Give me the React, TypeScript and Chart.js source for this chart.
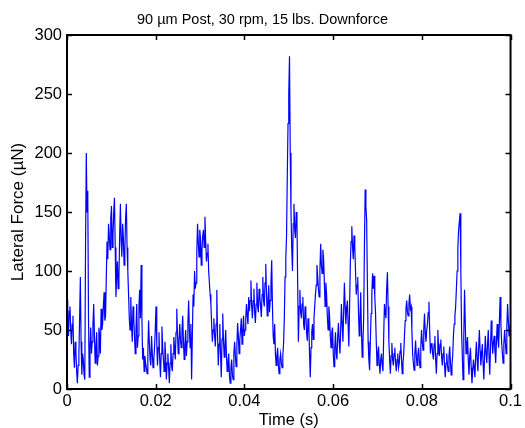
import React, { useEffect, useRef } from "react";
import { Chart, registerables } from "chart.js";

Chart.register(...registerables);

const TITLE = "90 \u00b5m Post, 30 rpm, 15 lbs. Downforce";
const X_LABEL = "Time (s)";
const Y_LABEL = "Lateral Force (\u00b5N)";
const X_MAX = 0.1;
const Y_MAX = 300;
const X_STEP = 0.02;
const Y_STEP = 50;

// Lateral force samples (µN), evenly spaced over 0 .. 0.1 s
const forceValues: number[] = [
  75, 52, 45, 66, 70, 50, 38, 55, 62, 30, 18, 40, 32, 15, 5, 20, 28, 60, 95, 40,
  12, 30, 25, 12, 8, 120, 200, 150, 168, 60, 10, 35, 52, 30, 40, 55, 72, 45, 22, 35,
  48, 20, 28, 52, 45, 30, 68, 50, 55, 70, 82, 58, 62, 95, 125, 110, 140, 130, 118, 145,
  155, 120, 130, 150, 162, 120, 78, 95, 108, 85, 95, 130, 157, 125, 112, 140, 128, 105, 118, 145,
  157, 120, 100, 80, 60, 50, 78, 55, 40, 70, 60, 45, 30, 50, 72, 35, 45, 70, 84, 60,
  105, 60, 25, 35, 15, 28, 22, 18, 13, 30, 58, 40, 25, 20, 45, 30, 18, 25, 35, 50,
  70, 40, 20, 35, 48, 25, 10, 30, 53, 35, 25, 15, 40, 28, 8, 22, 30, 18, 5, 22,
  38, 20, 15, 30, 44, 35, 25, 48, 68, 45, 30, 40, 55, 42, 35, 50, 62, 40, 25, 38,
  50, 28, 40, 55, 75, 50, 35, 55, 8, 45, 80, 70, 100, 85, 90, 115, 140, 125, 112, 135,
  128, 105, 118, 130, 135, 120, 146, 125, 108, 115, 123, 100, 90, 80, 72, 55, 40, 50, 60, 45,
  36, 55, 84, 45, 20, 38, 55, 30, 10, 42, 64, 40, 27, 38, 50, 28, 15, 22, 30, 12,
  5, 18, 25, 12, 8, 30, 40, 28, 19, 35, 56, 45, 30, 42, 50, 60, 38, 48, 62, 45,
  50, 60, 72, 62, 55, 78, 66, 75, 92, 70, 60, 75, 85, 65, 56, 72, 90, 70, 65, 85,
  78, 70, 61, 80, 95, 75, 70, 90, 106, 80, 62, 75, 88, 65, 75, 90, 109, 70, 45, 38,
  55, 30, 20, 28, 35, 20, 13, 25, 30, 22, 18, 28, 39, 60, 95, 110, 129, 180, 225, 250,
  282, 200, 150, 120, 100, 140, 157, 135, 128, 150, 145, 90, 40, 70, 84, 65, 60, 72, 78, 55,
  50, 70, 64, 48, 41, 60, 55, 30, 10, 35, 48, 55, 42, 60, 70, 80, 88, 105, 95, 85,
  78, 100, 123, 105, 98, 118, 110, 90, 70, 90, 80, 62, 50, 70, 62, 45, 35, 48, 52, 30,
  19, 35, 48, 30, 25, 45, 56, 40, 30, 50, 72, 55, 40, 65, 90, 70, 55, 68, 75, 55,
  36, 70, 106, 125, 138, 120, 110, 130, 120, 100, 80, 88, 95, 65, 45, 60, 82, 50, 27, 40,
  60, 120, 169, 155, 143, 90, 40, 25, 16, 40, 64, 80, 98, 85, 96, 78, 64, 40, 20, 30,
  36, 22, 13, 25, 30, 20, 15, 45, 72, 65, 60, 85, 99, 70, 40, 25, 13, 28, 39, 25,
  20, 30, 35, 22, 15, 25, 30, 18, 22, 32, 39, 25, 13, 22, 30, 45, 58, 68, 75, 65,
  62, 72, 80, 68, 70, 50, 30, 22, 16, 30, 41, 28, 20, 28, 35, 25, 18, 35, 50, 40,
  33, 50, 64, 48, 40, 50, 55, 65, 74, 50, 30, 38, 39, 30, 25, 38, 45, 25, 13, 30,
  50, 35, 28, 38, 42, 28, 20, 30, 36, 20, 10, 22, 30, 20, 15, 28, 36, 22, 12, 20,
  28, 45, 55, 62, 70, 85, 100, 120, 135, 142, 149, 100, 50, 28, 8, 45, 84, 55, 30, 38,
  44, 25, 12, 28, 35, 18, 5, 15, 25, 18, 10, 28, 40, 25, 15, 35, 50, 32, 20, 30,
  38, 22, 8, 28, 45, 30, 22, 38, 50, 28, 12, 35, 58, 42, 30, 40, 45, 32, 22, 40,
  55, 42, 35, 58, 78, 55, 40, 30, 22, 38, 50, 40, 30, 52, 72, 58, 45, 50, 56,
];

const timeValues: number[] = forceValues.map(
  (_, i) => (i * X_MAX) / (forceValues.length - 1)
);

const FONT = "'Liberation Sans', Arial, Helvetica, sans-serif";

const inwardTicks = {
  id: "inwardTicks",
  afterDraw(chart: any) {
    const { ctx, chartArea, scales } = chart;
    const { left, right, top, bottom } = chartArea;
    const len = 5;
    ctx.save();
    ctx.strokeStyle = "#000";
    ctx.lineWidth = 1.5;
    scales.x.ticks.forEach((t: any) => {
      const px = Math.round(scales.x.getPixelForValue(t.value)) + 0.5;
      ctx.beginPath();
      ctx.moveTo(px, bottom);
      ctx.lineTo(px, bottom - len);
      ctx.moveTo(px, top);
      ctx.lineTo(px, top + len);
      ctx.stroke();
    });
    scales.y.ticks.forEach((t: any) => {
      const py = Math.round(scales.y.getPixelForValue(t.value)) + 0.5;
      ctx.beginPath();
      ctx.moveTo(left, py);
      ctx.lineTo(left + len, py);
      ctx.moveTo(right, py);
      ctx.lineTo(right - len, py);
      ctx.stroke();
    });
    ctx.lineWidth = 2;
    ctx.strokeRect(left, top, right - left, bottom - top);
    ctx.restore();
  },
};

const whiteBg = {
  id: "whiteBg",
  beforeDraw(chart: any) {
    const { ctx, width, height } = chart;
    ctx.save();
    ctx.fillStyle = "#fff";
    ctx.fillRect(0, 0, width, height);
    ctx.restore();
  },
};

export default function App() {
  const ref = useRef<HTMLCanvasElement | null>(null);

  useEffect(() => {
    if (!ref.current) return;
    const chart = new Chart(ref.current, {
      type: "line",
      data: {
        datasets: [
          {
            data: timeValues.map((t, i) => ({ x: t, y: forceValues[i] })),
            borderColor: "#0000ff",
            borderWidth: 1.2,
            pointRadius: 0,
            tension: 0,
            fill: false,
          },
        ],
      },
      options: {
        responsive: false,
        animation: false,
        events: [],
        layout: { padding: 0 },
        plugins: {
          legend: { display: false },
          tooltip: { enabled: false },
          title: {
            display: true,
            text: TITLE,
            color: "#000",
            font: { family: FONT, size: 14.5, weight: "normal", lineHeight: 1.2 },
            padding: { top: 11.3, bottom: 6.3 },
          },
        },
        scales: {
          x: {
            type: "linear",
            min: 0,
            max: X_MAX,
            grid: { display: false, drawTicks: false },
            border: { display: false },
            afterFit: (s: any) => {
              s.height = 39;
            },
            ticks: {
              stepSize: X_STEP,
              color: "#000",
              padding: 3,
              maxRotation: 0,
              font: { family: FONT, size: 16.5 },
              callback: (v: any) => String(Number(Number(v).toFixed(2))),
            },
            title: {
              display: true,
              text: X_LABEL,
              color: "#000",
              font: { family: FONT, size: 16.5, lineHeight: 1 },
              padding: { top: 0, bottom: -1 },
            },
          },
          y: {
            min: 0,
            max: Y_MAX,
            grid: { display: false, drawTicks: false },
            border: { display: false },
            afterFit: (s: any) => {
              s.width = 67;
            },
            ticks: {
              stepSize: Y_STEP,
              color: "#000",
              padding: 5,
              font: { family: FONT, size: 16.5 },
            },
            title: {
              display: true,
              text: Y_LABEL,
              color: "#000",
              font: { family: FONT, size: 17, lineHeight: 1.2 },
              padding: { top: 8.5, bottom: 0 },
            },
          },
          yRight: {
            position: "right",
            min: 0,
            max: Y_MAX,
            grid: { display: false, drawTicks: false },
            border: { display: false },
            ticks: { display: false },
            afterFit: (s: any) => {
              s.width = 11;
            },
          },
        },
      },
      plugins: [whiteBg, inwardTicks],
    });
    return () => chart.destroy();
  }, []);

  return (
    <div style={{ position: "fixed", left: 0, top: 0, width: 525, height: 428, background: "#fff" }}>
      <canvas ref={ref} width={525} height={428} style={{ display: "block" }} />
    </div>
  );
}
